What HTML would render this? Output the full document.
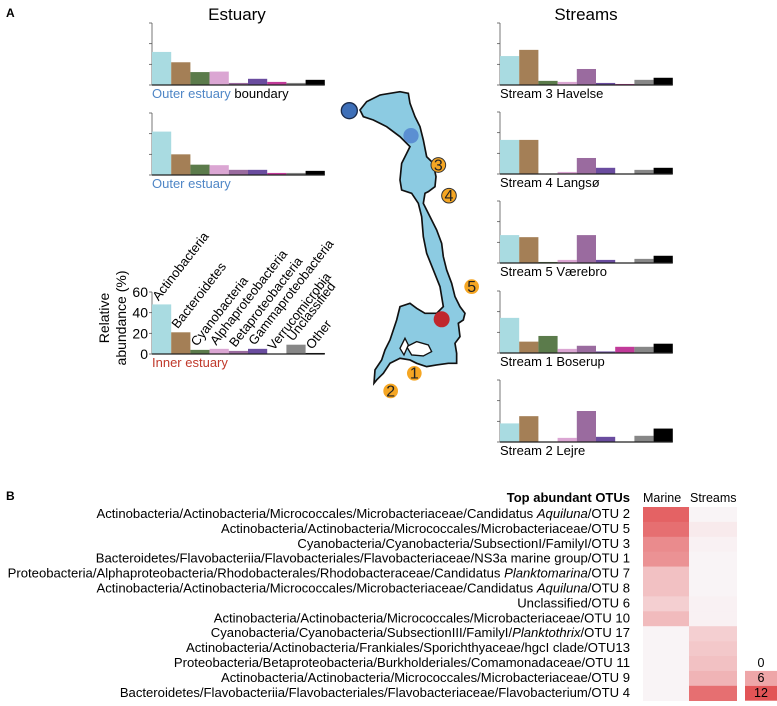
<!DOCTYPE html>
<html><head><meta charset="utf-8"><style>
body{margin:0;background:#fff;}
svg{display:block;font-family:"Liberation Sans",Arial,sans-serif;}
</style></head><body>
<svg id="fig" width="777" height="706" viewBox="0 0 777 706" xmlns="http://www.w3.org/2000/svg">
<text x="6" y="17" font-size="12" font-weight="bold">A</text>
<text x="237" y="20" font-size="17" text-anchor="middle">Estuary</text>
<text x="586" y="20" font-size="17" text-anchor="middle">Streams</text>
<text x="6" y="500" font-size="12" font-weight="bold">B</text>

<g id="map" transform="translate(300,30) scale(0.3333)">
<path fill="#8ccbe2" stroke="#111" stroke-width="5" d="M180,240 L200,215 L240,195 L300,185 L325,190 L330,220 L345,260 L360,290 L370,330 L380,380 L400,400 L408,440 L405,470 L385,485 L375,490 L370,520 L390,560 L410,600 L425,640 L430,680 L440,720 L455,760 L465,800 L480,830 L495,850 L490,870 L475,880 L480,920 L465,940 L470,970 L470,1000 L445,1000 L410,1005 L380,1010 L350,1000 L330,990 L300,985 L270,1000 L250,1030 L230,1050 L222,1060 L225,1020 L245,990 L255,960 L270,930 L280,900 L290,870 L300,830 L330,820 L350,835 L375,850 L410,850 L430,830 L420,770 L400,720 L380,670 L370,620 L365,560 L355,520 L335,490 L305,480 L300,450 L305,400 L320,370 L330,350 L300,320 L260,290 L220,270 L190,260 Z"/>
<path fill="#fff" stroke="#111" stroke-width="4" d="M320,950 L350,935 L385,945 L395,965 L370,978 L335,975 Z"/>
<path fill="#fff" stroke="#111" stroke-width="4" d="M300,955 L315,925 L325,945 L312,975 Z"/>
<circle cx="148" cy="242" r="24" fill="#3e6fb8" stroke="#1a2a4a" stroke-width="4"/>
<circle cx="333" cy="317" r="23" fill="#5b8fd2"/>
<circle cx="425" cy="868" r="24" fill="#c0272d"/>
<g font-size="48" text-anchor="middle" fill="#222">
<circle cx="415" cy="405" r="22" fill="#f5a623" stroke="#333" stroke-width="3"/><text x="415" y="421">3</text>
<circle cx="447" cy="497" r="22" fill="#f5a623" stroke="#333" stroke-width="3"/><text x="447" y="513">4</text>
<circle cx="515" cy="770" r="22" fill="#f5a623"/><text x="515" y="786">5</text>
<circle cx="343" cy="1030" r="22" fill="#f5a623"/><text x="343" y="1046">1</text>
<circle cx="272" cy="1083" r="22" fill="#f5a623"/><text x="272" y="1099">2</text>
</g>
</g>
<g id="charts"></g>
<g id="heat"></g>
</svg>
<script>
const categories=["Actinobacteria","Bacteroidetes","Cyanobacteria","Alphaproteobacteria","Betaproteobacteria","Gammaproteobacteria","Verrucomicrobia","Unclassified","Other"];
const outerBoundary=[32,22,12.5,13,2,6,3,2,5];
const outerEstuary=[42,20,10,9.5,5,5,2,2,4];
const innerEstuary=[48,21,4,5,3,5,0,9,1];
const stream3=[28,34,4,3,15.5,2,1,5,7];
const stream4=[33,33,0,2,15.5,6,0,4,6];
const stream5=[27,25,1,3,27,3,0,4,7];
const stream1=[34,11,16.5,4,7,1.5,6,6,9];
const stream2=[18,25,0,4,30,5,0,6,13];
const yTicks=[0,20,40,60];
const otuLabels=[
["Actinobacteria/Actinobacteria/Micrococcales/Microbacteriaceae/Candidatus ","Aquiluna","/OTU 2"],
["Actinobacteria/Actinobacteria/Micrococcales/Microbacteriaceae/OTU 5"],
["Cyanobacteria/Cyanobacteria/SubsectionI/FamilyI/OTU 3"],
["Bacteroidetes/Flavobacteriia/Flavobacteriales/Flavobacteriaceae/NS3a marine group/OTU 1"],
["Proteobacteria/Alphaproteobacteria/Rhodobacterales/Rhodobacteraceae/Candidatus ","Planktomarina","/OTU 7"],
["Actinobacteria/Actinobacteria/Micrococcales/Microbacteriaceae/Candidatus ","Aquiluna","/OTU 8"],
["Unclassified/OTU 6"],
["Actinobacteria/Actinobacteria/Micrococcales/Microbacteriaceae/OTU 10"],
["Cyanobacteria/Cyanobacteria/SubsectionIII/FamilyI/","Planktothrix","/OTU 17"],
["Actinobacteria/Actinobacteria/Frankiales/Sporichthyaceae/hgcI clade/OTU13"],
["Proteobacteria/Betaproteobacteria/Burkholderiales/Comamonadaceae/OTU 11"],
["Actinobacteria/Actinobacteria/Micrococcales/Microbacteriaceae/OTU 9"],
["Bacteroidetes/Flavobacteriia/Flavobacteriales/Flavobacteriaceae/Flavobacterium/OTU 4"]];
const marineVals=[11,10,8,7.5,4,4,3,4.5,0.3,0.3,0.3,0.3,0.3];
const streamVals=[0.3,1,0.5,0.3,0.3,0.3,0.5,0.5,3,3.5,4,5,10];
const legendVals=[0,6,12];

const NS="http://www.w3.org/2000/svg";
const colors=["#a9dbe1","#a47f56","#5b7b4b","#dba6d3","#9a6b9f","#6a4c9f","#c13a99","#878787","#000"];
function mk(tag,attrs,parent){const e=document.createElementNS(NS,tag);for(const k in attrs)e.setAttribute(k,attrs[k]);parent.appendChild(e);return e;}
const charts=document.getElementById('charts');
function barChart(vals,x0,base,label,labelParts,key,axisLabels){
  const g=mk('g',{},charts);
  
  
  const bw=19.2, h=62;
  const ys=v=>base-v/60*h;
  const ax=mk('line',{x1:x0,y1:ys(60),x2:x0,y2:base,stroke:'#555','stroke-width':0.8},g);
  
  
  yTicks.forEach(t=>{mk('line',{x1:x0-3,x2:x0,y1:ys(t),y2:ys(t),stroke:'#555','stroke-width':0.8},g);
    if(axisLabels){const tt=mk('text',{x:x0-4,y:ys(t)+5,'font-size':14,'text-anchor':'end'},g);tt.textContent=t;
      
      }});
  vals.forEach((v,i)=>{const r=mk('rect',{x:x0+i*bw,y:ys(v),width:bw,height:Math.max(0,base-ys(v)),fill:colors[i]},g);
    
    });
  mk('line',{x1:x0,x2:x0+9*bw,y1:base,y2:base,stroke:'#222','stroke-width':1.2},g);
  const lt=mk('text',{x:x0,y:base+13,'font-size':13},g);
  
  
  labelParts.forEach(p=>{const s=mk('tspan',{fill:p[1]},lt);s.textContent=p[0];});
  if(axisLabels){
    vals.forEach((v,i)=>{const cx=x0+i*bw+bw/2-3, cy=ys(v)-3;
      const t=mk('text',{x:cx,y:cy,'font-size':13,transform:`rotate(-52 ${cx} ${cy})`},g);t.textContent=categories[i];
      
      });
    const yt=mk('text',{x:0,y:0,'font-size':14,'text-anchor':'middle',transform:'translate(117,318) rotate(-90)'},g);
    
    
    const a=mk('tspan',{x:0,dy:-8},yt);a.textContent='Relative';
    const b=mk('tspan',{x:0,dy:17},yt);b.textContent='abundance (%)';
  }
}
const blue="#4f86c6", red="#c0392b";
barChart(outerBoundary,152,85,"",[["Outer estuary ",blue],["boundary","#000"]],'chart-outer-boundary',false);
barChart(outerEstuary,152,175,"",[["Outer estuary",blue]],'chart-outer-estuary',false);
barChart(innerEstuary,152,354,"",[["Inner estuary",red]],'chart-inner-estuary',true);
barChart(stream3,500,85,"",[["Stream 3 Havelse","#000"]],'chart-stream-3',false);
barChart(stream4,500,174,"",[["Stream 4 Langsø","#000"]],'chart-stream-4',false);
barChart(stream5,500,263,"",[["Stream 5 Værebro","#000"]],'chart-stream-5',false);
barChart(stream1,500,353,"",[["Stream 1 Boserup","#000"]],'chart-stream-1',false);
barChart(stream2,500,442,"",[["Stream 2 Lejre","#000"]],'chart-stream-2',false);

const heat=document.getElementById('heat');
function col(v){const t=Math.max(0,Math.min(1,v/12));const c0=[250,248,250],c1=[226,84,86];
  return `rgb(${c0.map((c,i)=>Math.round(c+(c1[i]-c)*t)).join(',')})`;}
const top0=507, rh=14.9;
const th=mk('text',{x:630,y:502,'font-size':13,'font-weight':'bold','text-anchor':'end'},heat);th.textContent='Top abundant OTUs';


const h1=mk('text',{x:643,y:502,'font-size':12.5},heat);h1.textContent='Marine';


const h2=mk('text',{x:690,y:502,'font-size':12.5},heat);h2.textContent='Streams';


otuLabels.forEach((parts,i)=>{
  const t=mk('text',{x:630,y:top0+i*rh+11,'font-size':13.1,'text-anchor':'end'},heat);
  
  
  parts.forEach((p,j)=>{const s=mk('tspan',j==1?{'font-style':'italic'}:{},t);s.textContent=p;});
  const a=mk('rect',{x:643,y:top0+i*rh,width:46,height:rh+0.3,fill:col(marineVals[i])},heat);
  
  
  const b=mk('rect',{x:689,y:top0+i*rh,width:48,height:rh+0.3,fill:col(streamVals[i])},heat);
  
  
});
legendVals.forEach((v,i)=>{
  const y=top0+(10+i)*rh;
  if(v>0){const r=mk('rect',{x:745,y:y,width:32,height:rh,fill:col(v)},heat);
    
    }
  const t=mk('text',{x:761,y:y+11,'font-size':12.5,'text-anchor':'middle'},heat);t.textContent=v;
  
  
});
</script>
</body></html>
